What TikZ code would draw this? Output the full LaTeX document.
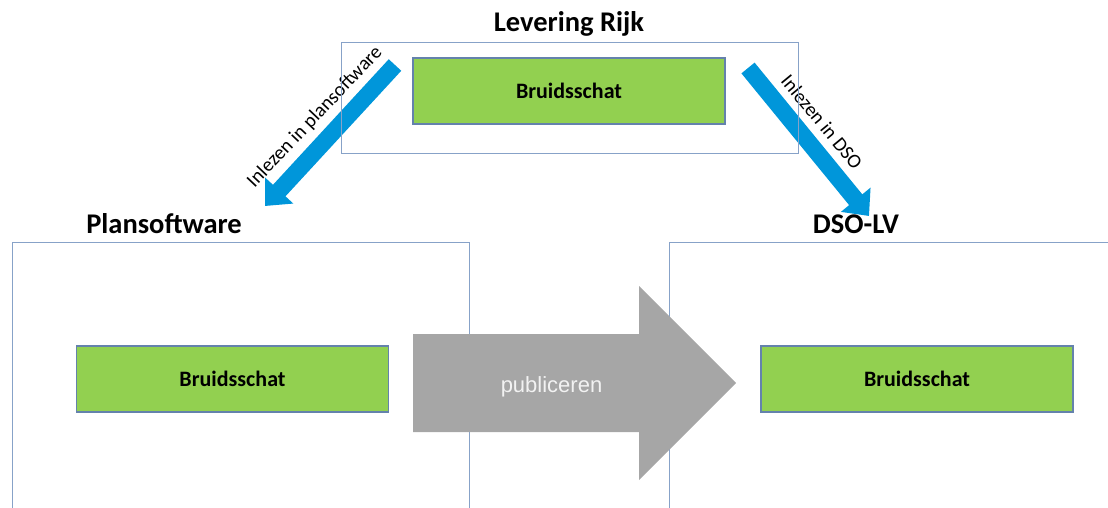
\documentclass[tikz,border=0pt]{standalone}
\usepackage{fontspec}
\setmainfont{Carlito}
\newfontfamily\arialfont{Liberation Sans}
\usetikzlibrary{arrows.meta,positioning}
\definecolor{schatgreen}{RGB}{146,208,80}
\definecolor{schatedge}{RGB}{100,130,172}
\definecolor{framegray}{RGB}{135,162,200}
\definecolor{leesblue}{RGB}{0,150,218}
\definecolor{pubgray}{RGB}{166,166,166}
\definecolor{pubtext}{RGB}{242,242,242}
\begin{document}
\begin{tikzpicture}[x=1pt,y=-1pt,
    frame/.style={draw=framegray,line width=1.3pt,anchor=north west,inner sep=0pt},
    schat/.style={draw=schatedge,fill=schatgreen,line width=1.2pt,minimum width=312pt,minimum height=66pt,font=\fontsize{22}{26}\selectfont\bfseries},
    kop/.style={font=\fontsize{28.5}{34}\selectfont\bfseries,anchor=base},
    inlees/.style={line width=17pt,leesblue,-{Triangle[width=37pt,length=21pt]}},
    inleestekst/.style={font=\fontsize{19.8}{22}\selectfont,inner sep=0pt}]
  \useasboundingbox (0,0) rectangle (1108,508);
  \clip (0,0) rectangle (1108,508);
  % aanlevering
  \coordinate (lstart) at (395,65);
  \coordinate (lend) at (265,206);
  \coordinate (rstart) at (748,68);
  \coordinate (rend) at (869,216);
  \draw[inlees] (lstart) -- (lend);
  \draw[inlees] (rstart) -- (rend);
  \node[inleestekst,rotate=46.5] (ltekst) at (315,117) {Inlezen in plansoftware};
  \node[inleestekst,rotate=-50.5] (rtekst) at (822,122) {Inlezen in DSO};
  % kaders
  \node[frame,minimum width=457pt,minimum height=111pt] (rijk) at (341,42) {};
  \node[frame,minimum width=457pt,minimum height=320pt] (plan) at (12,242) {};
  \node[frame,minimum width=460pt,minimum height=320pt] (dso) at (669,242) {};
  \node[kop] (rijkkop) at (569,32) {Levering Rijk};
  \node[kop] (plankop) at (164,233) {Plansoftware};
  \node[kop] (dsokop) at (856,233) {DSO-LV};
  \node[schat] (schatrijk) at (569,91) {Bruidsschat};
  \node[schat] (schatplan) at (232.5,379) {Bruidsschat};
  \node[schat] (schatdso) at (917,379) {Bruidsschat};
  % publiceren
  \fill[pubgray] (413,334) -- (639,334) -- (639,286) -- (736,383) -- (639,480) -- (639,432) -- (413,432) -- cycle;
  \node[font=\arialfont\fontsize{22}{26}\selectfont,text=pubtext,anchor=base] (pub) at (551.5,392) {publiceren};
\end{tikzpicture}
\end{document}
